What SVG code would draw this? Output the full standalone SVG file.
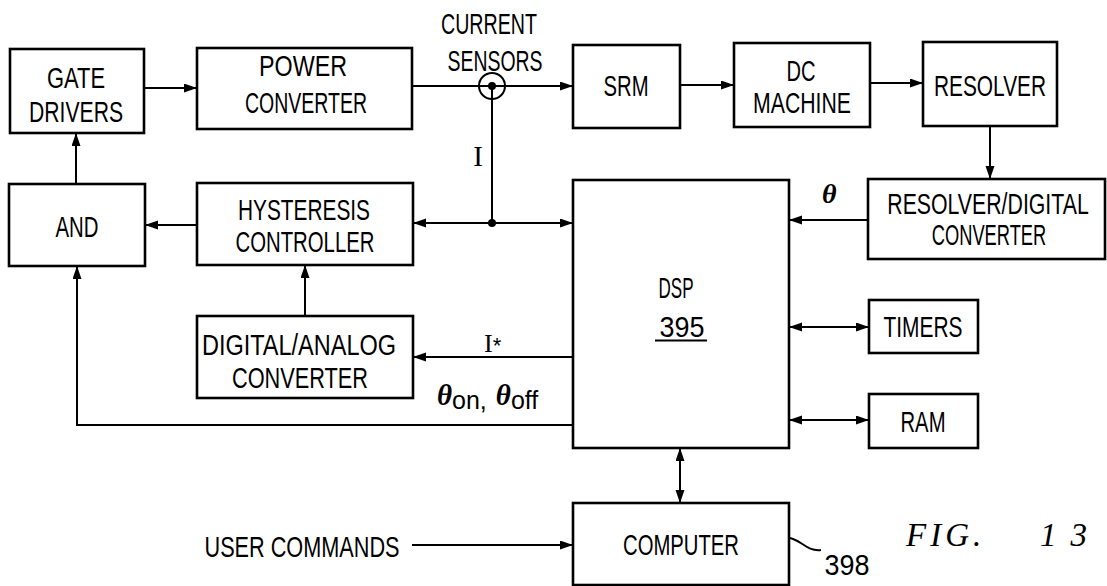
<svg xmlns="http://www.w3.org/2000/svg" width="1107" height="586" viewBox="0 0 1107 586">
<style>
.box{fill:#fff;stroke:#000;stroke-width:2.6}
.t{font-family:"Liberation Sans",Arial,sans-serif;font-size:30px;text-anchor:middle;fill:#000}
.s{font-family:"Liberation Serif","Times New Roman",serif;fill:#000}
.c{fill:none;stroke:#000;stroke-width:2}
</style>
<defs>
<marker id="ah" markerUnits="userSpaceOnUse" markerWidth="14" markerHeight="10" refX="13" refY="4.5" orient="auto-start-reverse">
<path d="M0,0 L13,4.5 L0,9 z" fill="#000"/>
</marker>
</defs>
<rect width="1107" height="586" fill="#fff"/>

<g id="connectors">
<line class="c" x1="144" y1="88" x2="197" y2="88" marker-end="url(#ah)"/>
<line class="c" x1="412" y1="86" x2="573" y2="86" marker-end="url(#ah)"/>
<line class="c" x1="492" y1="86" x2="492" y2="223"/>
<line class="c" x1="492" y1="223" x2="413" y2="223" marker-end="url(#ah)"/>
<line class="c" x1="492" y1="223" x2="573" y2="223" marker-end="url(#ah)"/>
<circle cx="492" cy="223" r="4" fill="#000"/>
<line class="c" x1="680" y1="85" x2="734" y2="85" marker-end="url(#ah)"/>
<line class="c" x1="870" y1="83" x2="923" y2="83" marker-end="url(#ah)"/>
<line class="c" x1="990" y1="126" x2="990" y2="179" marker-end="url(#ah)"/>
<line class="c" x1="868" y1="220" x2="789" y2="220" marker-end="url(#ah)"/>
<line class="c" x1="197" y1="225" x2="145" y2="225" marker-end="url(#ah)"/>
<line class="c" x1="76" y1="184" x2="76" y2="133" marker-end="url(#ah)"/>
<line class="c" x1="305" y1="316" x2="305" y2="265" marker-end="url(#ah)"/>
<line class="c" x1="573" y1="357" x2="413" y2="357" marker-end="url(#ah)"/>
<polyline class="c" points="573,425 77,425 77,266" marker-end="url(#ah)"/>
<line class="c" x1="789" y1="327" x2="869" y2="327" marker-start="url(#ah)" marker-end="url(#ah)"/>
<line class="c" x1="789" y1="420" x2="869" y2="420" marker-start="url(#ah)" marker-end="url(#ah)"/>
<line class="c" x1="680" y1="448" x2="680" y2="503" marker-start="url(#ah)" marker-end="url(#ah)"/>
<line class="c" x1="412" y1="545" x2="573" y2="545" marker-end="url(#ah)"/>
<path class="c" d="M788,538 C800,538 806,552 821,550"/>
</g>

<g id="current-sensors">
<circle cx="492" cy="86" r="13" fill="none" stroke="#000" stroke-width="2"/>
<circle cx="492" cy="86" r="4" fill="#000"/>
<text class="t" x="489" y="34" textLength="96" lengthAdjust="spacingAndGlyphs">CURRENT</text>
<text class="t" x="495" y="71" textLength="95" lengthAdjust="spacingAndGlyphs">SENSORS</text>
</g>

<g id="gate-drivers">
<rect class="box" x="10" y="49" width="134" height="84"/>
<text class="t" x="76" y="88" textLength="58" lengthAdjust="spacingAndGlyphs">GATE</text>
<text class="t" x="76" y="122" textLength="94" lengthAdjust="spacingAndGlyphs">DRIVERS</text>
</g>

<g id="power-converter">
<rect class="box" x="197" y="48" width="215" height="81"/>
<text class="t" x="303" y="76" textLength="88" lengthAdjust="spacingAndGlyphs">POWER</text>
<text class="t" x="306" y="113" textLength="122" lengthAdjust="spacingAndGlyphs">CONVERTER</text>
</g>

<g id="srm">
<rect class="box" x="573" y="45" width="107" height="83"/>
<text class="t" x="626" y="96" textLength="45" lengthAdjust="spacingAndGlyphs">SRM</text>
</g>

<g id="dc-machine">
<rect class="box" x="734" y="43" width="136" height="84"/>
<text class="t" x="801" y="81" textLength="29" lengthAdjust="spacingAndGlyphs">DC</text>
<text class="t" x="802" y="113" textLength="98" lengthAdjust="spacingAndGlyphs">MACHINE</text>
</g>

<g id="resolver">
<rect class="box" x="923" y="42" width="134" height="84"/>
<text class="t" x="990" y="96" textLength="112" lengthAdjust="spacingAndGlyphs">RESOLVER</text>
</g>

<g id="resolver-digital-converter">
<rect class="box" x="868" y="179" width="237" height="80"/>
<text class="t" font-size="27" transform="translate(988,214) scale(0.71,1)">RESOLVER/DIGITAL</text>
<text class="t" font-size="27" transform="translate(989,245) scale(0.61,1)">CONVERTER</text>
<text class="s" x="822" y="203" font-size="28" font-style="italic" font-weight="bold">θ</text>
</g>

<g id="i-label">
<text class="s" x="478" y="166" font-size="29" text-anchor="middle">I</text>
</g>

<g id="and">
<rect class="box" x="9" y="184" width="136" height="82"/>
<text class="t" x="77" y="237" textLength="43" lengthAdjust="spacingAndGlyphs">AND</text>
</g>

<g id="hysteresis-controller">
<rect class="box" x="197" y="183" width="216" height="82"/>
<text class="t" x="304" y="220" textLength="132" lengthAdjust="spacingAndGlyphs">HYSTERESIS</text>
<text class="t" x="305" y="252" textLength="139" lengthAdjust="spacingAndGlyphs">CONTROLLER</text>
</g>

<g id="digital-analog-converter">
<rect class="box" x="197" y="316" width="216" height="82"/>
<text class="t" x="299" y="355" textLength="194" lengthAdjust="spacingAndGlyphs">DIGITAL/ANALOG</text>
<text class="t" x="300" y="388" textLength="136" lengthAdjust="spacingAndGlyphs">CONVERTER</text>
</g>

<g id="signal-labels">
<text class="s" x="484" y="352" font-size="26">I<tspan font-family="Liberation Sans,sans-serif" font-size="22" dy="1">*</tspan></text>
<text class="s" x="437" y="405" font-size="29"><tspan font-style="italic" font-weight="bold">θ</tspan><tspan font-family="Liberation Sans,sans-serif" font-size="25" dy="4">on,</tspan><tspan font-style="italic" font-weight="bold" dy="-4" dx="9">θ</tspan><tspan font-family="Liberation Sans,sans-serif" font-size="25" dy="4">off</tspan></text>
</g>

<g id="dsp">
<rect class="box" x="573" y="180" width="216" height="268"/>
<text class="t" x="676" y="298" textLength="35" lengthAdjust="spacingAndGlyphs">DSP</text>
<text class="t" x="682" y="337" textLength="45" lengthAdjust="spacingAndGlyphs">395</text>
<line x1="655" y1="340.5" x2="707" y2="340.5" stroke="#000" stroke-width="2"/>
</g>

<g id="timers">
<rect class="box" x="869" y="300" width="109" height="53"/>
<text class="t" x="923" y="337" textLength="79" lengthAdjust="spacingAndGlyphs">TIMERS</text>
</g>

<g id="ram">
<rect class="box" x="869" y="394" width="109" height="54"/>
<text class="t" x="923" y="432" textLength="45" lengthAdjust="spacingAndGlyphs">RAM</text>
</g>

<g id="computer">
<rect class="box" x="573" y="503" width="216" height="82"/>
<text class="t" x="681" y="555" textLength="116" lengthAdjust="spacingAndGlyphs">COMPUTER</text>
<text class="t" x="847" y="575" textLength="45" lengthAdjust="spacingAndGlyphs">398</text>
</g>

<g id="user-commands">
<text class="t" x="302" y="557" textLength="195" lengthAdjust="spacingAndGlyphs">USER COMMANDS</text>
</g>

<g id="fig-label">
<text class="s" x="906" y="546" font-size="33" font-style="italic" letter-spacing="4">FIG.<tspan x="1040" letter-spacing="14">13</tspan></text>
</g>
</svg>
